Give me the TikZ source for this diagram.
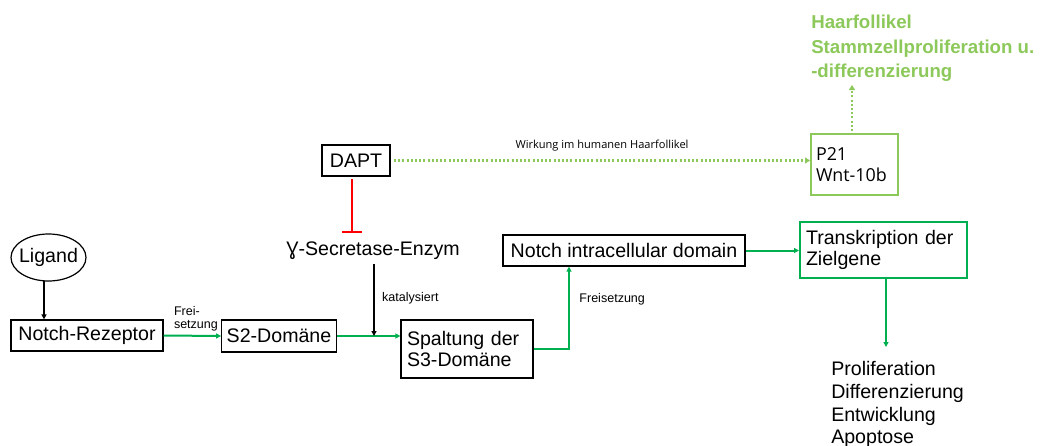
\documentclass[tikz,border=0pt]{standalone}
\usepackage{fontspec}
\setmainfont{Liberation Sans}
\newfontfamily\labelfont{Open Sans}
\usetikzlibrary{arrows.meta,shapes.geometric,calc}
\definecolor{darkgreen}{HTML}{00B050}
\definecolor{lightgreen}{HTML}{8CC85A}
\definecolor{inhibit}{HTML}{FF0000}
\def\u{0.75pt}
\tikzset{
  box/.style={draw=black, line width=1.2*\u, inner sep=5*\u, font=\fontsize{14.7}{16}\selectfont},
  gbox/.style={box, draw=darkgreen, line width=2*\u},
  main/.style={font=\fontsize{14.7}{17.1}\selectfont},
  small/.style={font=\fontsize{9.4}{10}\selectfont},
  tip/.style={-{Triangle[length=5*\u,width=5*\u]}},
  greenarrow/.style={tip, draw=darkgreen, line width=2*\u},
  blackarrow/.style={tip, draw=black, line width=1.5*\u},
  dotarrow/.style={-{Triangle[length=5*\u,width=6*\u]}, draw=lightgreen, line width=2.2*\u, dash pattern=on 2*\u off 2.2*\u},
}
\begin{document}
\begin{tikzpicture}[x=0.75pt,y=-0.75pt]
  \useasboundingbox (0,0) rectangle (1043,446);

  % input side of the pathway
  \node[ellipse, draw=black, line width=1.2*\u, minimum width=75*\u, minimum height=47*\u, inner xsep=-3*\u, inner ysep=0pt, font=\fontsize{14.7}{16}\selectfont] (lig) at (48.5,257.5) {Ligand};
  \node[box, minimum width=152*\u, minimum height=31*\u] (rez) at (87,335.5) {Notch-Rezeptor};
  \node[box, minimum width=112*\u, minimum height=32*\u] (s2) at (279,336) {S2-Domäne};
  \node[box, minimum width=132*\u, minimum height=58*\u, text width=120*\u, align=left] (s3) at (467,349) {Spaltung der\\S3-Domäne};
  \node[box, minimum width=242*\u, minimum height=31*\u] (nicd) at (624,250.5) {Notch intracellular domain};
  \node[gbox, minimum width=167*\u, minimum height=56*\u, text width=155*\u, align=left] (tr) at (883.5,250) {Transkription der\\Zielgene};

  % inhibitor and enzyme
  \node[box, line width=2*\u, minimum width=68*\u, minimum height=31*\u] (dapt) at (356,160.5) {DAPT};
  \node[main, inner sep=0pt] (gs) at (373,251) {Ɣ-Secretase-Enzym};
  \coordinate (bar) at (352,232);

  % effect in the hair follicle
  \node[gbox, draw=lightgreen, minimum width=87*\u, minimum height=61*\u, text width=77*\u, align=left, inner sep=5*\u, font=\labelfont\fontsize{13.4}{15.5}\selectfont] (p21) at (854.5,164.5) {P21\\Wnt-10b};
  \node[anchor=north west, inner sep=0pt, align=left, text=lightgreen, font=\bfseries\fontsize{14}{18.4}\selectfont] (hf) at (811,15) {Haarfollikel\\Stammzellproliferation u.\\-differenzierung};
  \node[main, anchor=north west, inner sep=0pt, align=left] (out) at (831,361) {Proliferation\\Differenzierung\\Entwicklung\\Apoptose};

  % connectors
  \draw[blackarrow] (lig.south -| 44,0) ++(0,-1) coordinate (ligb) -- (ligb |- rez.north);
  \draw[greenarrow] (rez.east) -- (s2.west)
    node[small, anchor=south west, align=left, inner sep=0pt] at (173,332) {Frei-\\setzung};
  \draw[greenarrow] (s2.east) -- (s2.east -| s3.west);
  \draw[blackarrow] (gs.south -| 374,0) ++(0,4) coordinate (gsb) -- (gsb |- s2.east)
    node[pos=0.48, right=3*\u, small] {katalysiert};
  \draw[greenarrow] (s3.east) -- (569,0 |- s3.east) -- (569,0 |- nicd.south)
    node[pos=0.6, right=5*\u, small] {Freisetzung};
  \draw[greenarrow] (nicd.east) -- (tr.west |- nicd.east);
  \draw[greenarrow] (tr.south -| 886,0) -- (886,347);

  % inhibition of the enzyme by DAPT
  \draw[draw=inhibit, line width=2*\u] (dapt.south -| bar) ++(0,2) -- (bar);
  \draw[draw=inhibit, line width=2*\u] ($(bar)+(-10,0)$) -- ($(bar)+(10,0)$);

  % DAPT effect
  \draw[dotarrow] (dapt.east) ++(3,0) -- node[above=4*\u, font=\labelfont\fontsize{8.3}{10}\selectfont] {Wirkung im humanen Haarfollikel} (p21.west |- dapt.east);
  \draw[dotarrow] (p21.north -| 852,0) ++(0,-2) -- (852,85);
\end{tikzpicture}
\end{document}
